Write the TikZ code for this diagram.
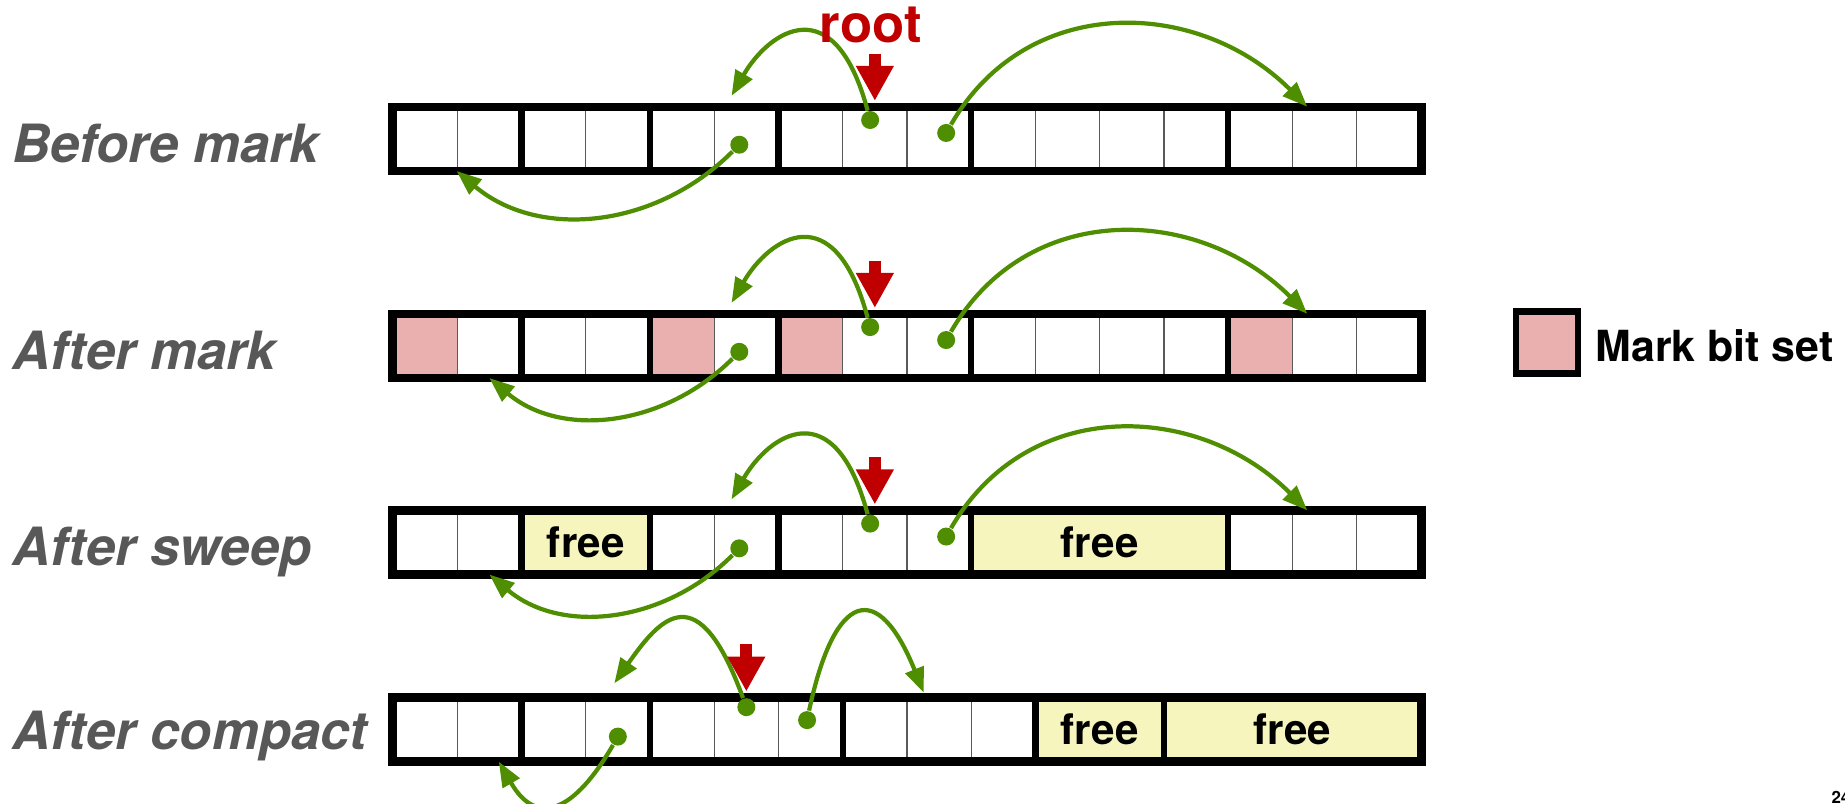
\documentclass[tikz,border=0pt]{standalone}
\usepackage{fontspec}
\setmainfont{TeX Gyre Heros}
\usepackage{tikz}
\usetikzlibrary{arrows.meta, positioning, fit}
\definecolor{ptrgreen}{RGB}{78,142,0}
\definecolor{rootred}{RGB}{192,0,0}
\definecolor{markpink}{RGB}{234,176,176}
\definecolor{freeyellow}{RGB}{246,245,190}
\definecolor{lblgrey}{RGB}{88,88,88}
\tikzset{
  cell/.style={rectangle, draw=black!65, line width=0.4pt, inner sep=0pt,
    minimum width=6.425mm, minimum height=6.284mm},
  markcell/.style={cell, fill=markpink},
  freeblk/.style={rectangle, fill=freeyellow, inner sep=0pt},
  freetxt/.style={inner sep=0pt, font=\fontsize{12}{14}\selectfont\bfseries},
  blockline/.style={draw=black, line width=1.4pt},
  frameline/.style={draw=black, line width=2.4pt},
  rowlbl/.style={anchor=base west, text=lblgrey, inner sep=0pt,
    font=\fontsize{15}{18}\selectfont\bfseries\itshape},
  ptrdot/.style={circle, fill=ptrgreen, inner sep=0pt, minimum size=1.8mm},
  ptr/.style={-{Triangle[length=2.5mm, width=1.9mm]}, draw=ptrgreen, line width=1.2pt},
  rootarrow/.style={-{Triangle[length=3.5mm, width=3.55mm]}, draw=rootred, line width=1.2mm},
  roottxt/.style={text=rootred, inner sep=0pt, font=\fontsize{15}{18}\selectfont\bfseries},
  legendbox/.style={rectangle, draw=black, fill=markpink, line width=1.8pt,
    minimum size=6.2mm, inner sep=0pt},
  legendtxt/.style={inner sep=0pt, font=\fontsize{12.2}{14}\selectfont\bfseries}
}

\begin{document}
\begin{tikzpicture}[x=0.11767mm, y=0.11767mm]
  \useasboundingbox (0,0) rectangle (1568,-683);

  % Cells of the four heap snapshots
  \foreach \row/\yc in {1/118, 2/294, 3/461, 4/620}
    \foreach \i in {0,...,15}
      \node[cell] (r\row-\i) at ({334+(\i+0.5)*54.6}, -\yc) {};

  % Mark bits set
  \foreach \i in {0,4,6,13}
    \node[markcell] at (r2-\i) {};

  % Freed blocks
  \node[freeblk, fit=(r3-2)(r3-3)] (r3free1) {};
  \node[freeblk, fit=(r3-9)(r3-12)] (r3free2) {};
  \node[freeblk, fit=(r4-10)(r4-11)] (r4free1) {};
  \node[freeblk, fit=(r4-12)(r4-15)] (r4free2) {};
  \foreach \f in {r3free1, r3free2, r4free1, r4free2}
    \node[freetxt] at (\f) {free};

  % Block borders
  \foreach \row in {1,2,3}
    \foreach \a/\b in {0/1, 2/3, 4/5, 6/8, 9/12, 13/15}
      \draw[blockline] (r\row-\a.north west) rectangle (r\row-\b.south east);
  \foreach \a/\b in {0/1, 2/3, 4/6, 7/9, 10/11, 12/15}
    \draw[blockline] (r4-\a.north west) rectangle (r4-\b.south east);

  % Heap frames
  \foreach \row in {1,...,4}
    \draw[frameline] (r\row-0.north west) rectangle (r\row-15.south east);

  % Row labels
  \node[rowlbl] (lbl1) at (10,-138) {Before mark};
  \node[rowlbl] (lbl2) at (10,-314) {After mark};
  \node[rowlbl] (lbl3) at (10,-481) {After sweep};
  \node[rowlbl] (lbl4) at (10,-637) {After compact};

  % Pointers before compaction
  \foreach \row/\tip in {1/south west, 2/south, 3/south} {
    \node[ptrdot] (p\row a) at ([shift={(-4,16)}]r\row-7) {};
    \node[ptrdot] (p\row b) at ([shift={(6,5)}]r\row-8) {};
    \node[ptrdot] (p\row c) at ([shift={(-6,-5)}]r\row-5) {};
    \draw[ptr] (p\row a) to[out=105, in=60, out looseness=2.4, in looseness=1.4]
      ([shift={(-12.6,9.3)}]r\row-5.north);
    \draw[ptr] (p\row b) to[out=60, in=135, looseness=1.1]
      ([shift={(-14.7,0)}]r\row-14.north);
    \draw[ptr] (p\row c) to[out=225, in=-40, looseness=1.0] (r\row-1.\tip);
  }

  % Pointers after compaction
  \node[ptrdot] (p4a) at ([shift={(0,19)}]r4-5) {};
  \node[ptrdot] (p4b) at ([shift={(-3,8)}]r4-6) {};
  \node[ptrdot] (p4c) at ([shift={(0,-6)}]r4-3) {};
  \draw[ptr] (p4a) to[out=110, in=55, out looseness=2.6, in looseness=1.6]
    ([shift={(-3,12)}]r4-3.north);
  \draw[ptr] (p4b) to[out=78, in=112, looseness=2.7]
    ([shift={(-13,4)}]r4-8.north);
  \draw[ptr] (p4c) to[out=240, in=-60, looseness=1.7]
    ([shift={(8,0)}]r4-1.south);

  % Root pointers
  \foreach \row/\c in {1/7, 2/7, 3/7, 4/5} {
    \coordinate (rt\row) at ([shift={(0,45)}]r\row-\c.north);
    \draw[rootarrow] (rt\row) -- ([shift={(0,5)}]r\row-\c.north);
  }
  \node[roottxt, above=1mm of rt1, xshift=-0.4mm] (root) {root};

  % Legend
  \node[legendbox] (legend) at (1314.5,-291) {};
  \node[legendtxt, right=1.4mm of legend, yshift=-0.35mm] (legendlbl) {Mark bit set};

  % Slide number
  \node[anchor=base west, inner sep=0pt, font=\fontsize{4.8}{5}\selectfont\bfseries]
    (slidenum) at (1556,-682.5) {24};
\end{tikzpicture}
\end{document}
